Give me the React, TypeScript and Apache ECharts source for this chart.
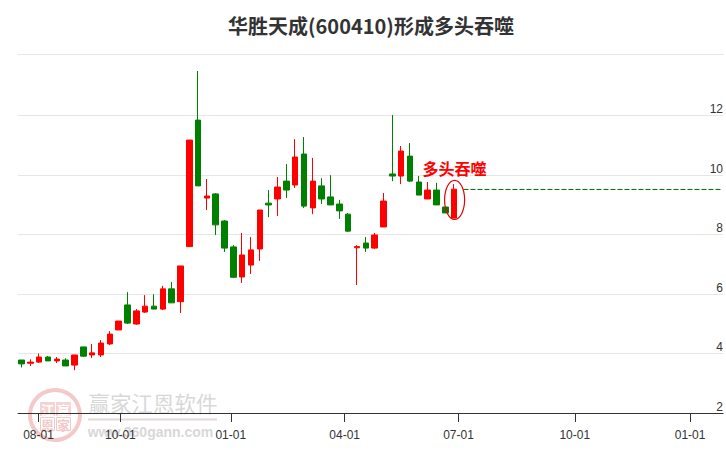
import React, { useEffect, useRef } from "react";
import * as echarts from "echarts";

const title = "华胜天成(600410)形成多头吞噬";
const patternLabel = "多头吞噬";
const patternIndex = 49;
const patternCenter = 9.16;
const patternLabelValue = 10.23;
const dashedLevel = 9.51;
const dashedFrom = 50.06;
const dashedTo = 79.35;

// [open, close, low, high] for each week
const candles: number[][] = [
  [3.78, 3.65, 3.53, 3.78], [3.67, 3.71, 3.58, 3.8], [3.71, 3.88, 3.68, 4.0], [3.88, 3.75, 3.75, 3.91],
  [3.75, 3.81, 3.68, 3.88], [3.78, 3.58, 3.58, 3.84], [3.61, 3.95, 3.44, 3.95], [4.22, 3.91, 3.88, 4.22],
  [3.95, 4.02, 3.85, 4.32], [3.95, 4.35, 3.88, 4.45], [4.32, 4.65, 4.28, 4.75], [4.79, 5.09, 4.79, 5.09],
  [5.63, 5.02, 4.99, 6.06], [4.99, 5.43, 4.96, 5.49], [5.39, 5.59, 5.36, 5.96], [5.59, 5.49, 5.49, 5.99],
  [5.49, 6.17, 5.46, 6.27], [6.17, 5.7, 5.7, 6.4], [5.74, 6.94, 5.36, 6.94], [7.59, 11.17, 7.59, 11.17],
  [11.84, 9.63, 9.63, 13.49], [9.22, 9.29, 8.82, 9.86], [9.36, 8.32, 7.98, 9.39], [8.45, 7.54, 7.41, 8.48],
  [7.58, 6.56, 6.53, 7.64], [6.57, 7.31, 6.37, 8.05], [6.97, 7.48, 6.67, 7.91], [7.51, 8.82, 7.11, 8.82],
  [9.05, 8.99, 8.58, 9.49], [9.19, 9.59, 8.62, 9.93], [9.79, 9.49, 9.22, 10.36], [9.66, 10.6, 9.56, 11.2],
  [10.7, 8.95, 8.89, 11.27], [8.89, 9.79, 8.68, 10.57], [9.63, 9.19, 9.02, 9.89], [9.26, 8.99, 8.99, 9.99],
  [9.02, 8.79, 8.52, 9.16], [8.68, 8.11, 8.08, 8.72], [7.55, 7.59, 6.3, 7.64], [7.71, 7.54, 7.41, 7.91],
  [7.54, 7.98, 7.51, 8.05], [8.25, 9.12, 8.25, 9.39], [10.03, 9.96, 9.79, 12.01], [9.96, 10.8, 9.69, 10.97],
  [10.63, 9.79, 9.76, 11.07], [9.76, 9.32, 9.32, 9.96], [9.19, 9.49, 9.19, 9.76], [9.49, 8.99, 8.99, 9.73],
  [8.92, 8.72, 8.72, 8.92], [8.55, 9.52, 8.55, 9.69],
];

// positions of the month ticks, in weeks since the first candle
const tickWeeks = [1.92, 11.2, 23.7, 36.6, 49.5, 62.67, 75.73];
const tickLabels = ["08-01", "10-01", "01-01", "04-01", "07-01", "10-01", "01-01"];
const yTicks = [2, 4, 6, 8, 10, 12];

const font = "Liberation Sans, Arial, sans-serif";
const cjk = "Noto Sans CJK SC, sans-serif";

export default function App() {
  const ref = useRef<HTMLDivElement>(null);
  useEffect(() => {
    const chart = echarts.init(ref.current!, undefined, { renderer: "svg" });
    const wm = "#d8d8d8";
    const seal = "#f3c9c9";
    const sealFill = "#f5d3d3";
    chart.setOption({
      animation: false,
      backgroundColor: "#fff",
      title: {
        text: title,
        left: 228,
        top: 15,
        padding: 0,
        textStyle: { fontFamily: cjk, fontSize: 20, fontWeight: "bold", color: "#333" },
      },
      grid: { left: 18, right: 2, top: 55.8, bottom: 37 },
      xAxis: {
        type: "value",
        min: -0.4,
        max: 79.46,
        splitLine: { show: false },
        axisLine: { show: true, onZero: false, lineStyle: { color: "#333", width: 1 } },
        axisTick: { show: true, length: 9, customValues: tickWeeks, lineStyle: { color: "#333" } },
        axisLabel: {
          customValues: tickWeeks,
          margin: 16,
          fontFamily: font,
          fontSize: 12,
          color: "#333",
          hideOverlap: false,
          formatter: (v: number) => {
            const i = tickWeeks.findIndex((t) => Math.abs(t - v) < 0.01);
            return i >= 0 ? tickLabels[i] : "";
          },
        },
      },
      yAxis: {
        type: "value",
        min: 2,
        max: 14,
        interval: 2,
        position: "right",
        axisLine: { show: false },
        axisTick: { show: false },
        splitLine: { show: true, showMaxLine: false, lineStyle: { color: "#e6e6e6", width: 1 } },
        axisLabel: {
          inside: true,
          margin: 0,
          fontFamily: font,
          fontSize: 12,
          color: "#333",
          verticalAlign: "bottom",
          formatter: (v: number) => (yTicks.includes(v) ? String(v) : ""),
        },
      },
      graphic: [
        { type: "rect", silent: true, shape: { x: 18, y: 54, width: 706, height: 1 }, style: { fill: "#e6e6e6" } },
        {
          type: "group",
          silent: true,
          children: [
            { type: "circle", shape: { cx: 55, cy: 415, r: 25 }, style: { fill: "none", stroke: seal, lineWidth: 4 } },
            { type: "rect", shape: { x: 40, y: 402, width: 15, height: 14 }, style: { fill: sealFill } },
            { type: "rect", shape: { x: 56, y: 402, width: 15, height: 14 }, style: { fill: sealFill } },
            { type: "rect", shape: { x: 40.5, y: 417.5, width: 14, height: 13 }, style: { fill: "none", stroke: seal } },
            { type: "rect", shape: { x: 56.5, y: 417.5, width: 14, height: 13 }, style: { fill: "none", stroke: seal } },
            { type: "text", style: { text: "江", x: 47.5, y: 409, align: "center", verticalAlign: "middle", font: "bold 13px " + cjk, fill: "#fff" } },
            { type: "text", style: { text: "赢", x: 63.5, y: 409, align: "center", verticalAlign: "middle", font: "bold 13px " + cjk, fill: "#fff" } },
            { type: "text", style: { text: "恩", x: 47.5, y: 424, align: "center", verticalAlign: "middle", font: "bold 13px " + cjk, fill: seal } },
            { type: "text", style: { text: "家", x: 63.5, y: 424, align: "center", verticalAlign: "middle", font: "bold 13px " + cjk, fill: seal } },
            { type: "text", style: { text: "赢家江恩软件", x: 153, y: 402, align: "center", verticalAlign: "middle", font: "21.5px " + cjk, fill: wm } },
            { type: "rect", shape: { x: 88, y: 418.5, width: 129, height: 2 }, style: { fill: "#e6d8d8" } },
            { type: "text", style: { text: "www.360gann.com", x: 150.5, y: 431.5, align: "center", verticalAlign: "middle", font: "bold 14px " + font, fill: wm } },
          ],
        },
      ],
      series: [
        {
          type: "candlestick",
          data: candles.map((c, i) => [i, ...c]),
          encode: { x: 0, y: [1, 2, 3, 4] },
          barWidth: 6,
          itemStyle: { color: "#ff0000", color0: "#008000", borderColor: "#ff0000", borderColor0: "#008000", borderWidth: 1 },
          z: 3,
        },
        {
          type: "line",
          data: [[dashedFrom, dashedLevel], [dashedTo, dashedLevel]],
          symbol: "none",
          lineStyle: { color: "#006400", type: [5, 2], width: 1 },
          z: 2,
        },
        {
          type: "custom",
          data: [[patternIndex, patternCenter, patternLabelValue]],
          encode: { x: 0, y: 1 },
          clip: false,
          z: 4,
          renderItem: (_p: any, api: any) => {
            const c = api.coord([api.value(0), api.value(1)]);
            const t = api.coord([api.value(0), api.value(2)]);
            return {
              type: "group",
              children: [
                { type: "ellipse", shape: { cx: c[0] + 0.5, cy: c[1], rx: 10, ry: 19.5 }, style: { fill: "none", stroke: "#e60000", lineWidth: 1.2 } },
                { type: "text", style: { text: patternLabel, x: t[0] + 0.5, y: t[1], align: "center", verticalAlign: "middle", font: "bold 16px " + cjk, fill: "#ff0000" } },
              ],
            };
          },
        },
      ],
    });
    return () => chart.dispose();
  }, []);
  return <div ref={ref} style={{ width: 726, height: 450, position: "absolute", left: 0, top: 0 }} />;
}
